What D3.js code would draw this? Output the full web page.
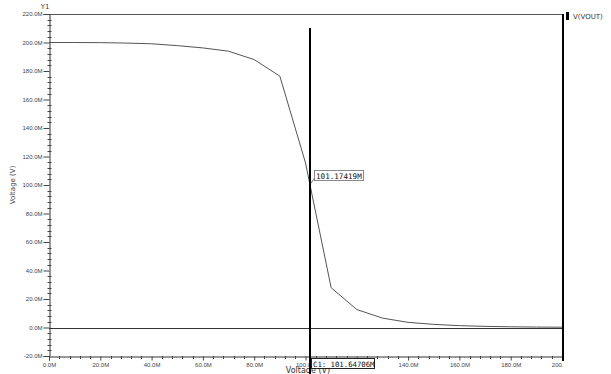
<!DOCTYPE html>
<html>
<head>
<meta charset="utf-8">
<script src="https://cdn.jsdelivr.net/npm/d3@7"></script>
<style>
  body { margin: 0; background: #fff; }
  svg { display: block; font-family: "DejaVu Sans", sans-serif; }
</style>
</head>
<body>
<svg id="chart" width="611" height="374"></svg>
<script>
// sweep values in mV ("M" = milli), output in mV
const vin  = [0, 10, 20, 30, 40, 50, 60, 70, 80, 90, 100, 110, 120, 130, 140, 150, 160, 170, 180, 190, 200];
const vout = [200, 200, 199.9, 199.6, 199.1, 197.8, 196.2, 193.9, 188, 176.4, 115.5, 27.9, 12.6, 6.6, 3.6, 2.2, 1.3, 0.8, 0.5, 0.3, 0.2];
const yTicks = [-20, 0, 20, 40, 60, 80, 100, 120, 140, 160, 180, 200, 220];
const xTicks = [0, 20, 40, 60, 80, 100, 120, 140, 160, 180, 200];
const cursorX = 101.64706;
const cursorY = 101.17419;
const seriesName = 'V(VOUT)';

const svg = d3.select('#chart');
const plotL = 49, plotR = 562, plotT = 14, plotB = 356;

const x = d3.scaleLinear().domain([0, 200]).range([plotL, plotR]);
const y = d3.scaleLinear().domain([-20, 220]).range([plotB, plotT]);
const fmt = v => v.toFixed(1) + 'M';

// top border
svg.append('line')
    .attr('x1', plotL).attr('x2', plotR).attr('y1', plotT + 0.5).attr('y2', plotT + 0.5)
    .attr('stroke', '#555').attr('stroke-width', 1);

// y axis
const yAxis = svg.append('g').attr('transform', `translate(${plotL + 0.5},0)`)
    .call(d3.axisLeft(y).tickValues(yTicks).tickFormat(fmt).tickSize(6).tickPadding(1));
yAxis.select('.domain').attr('stroke', '#333');
yAxis.selectAll('.tick line').attr('stroke', '#444');
yAxis.selectAll('text').attr('font-size', 6).attr('fill', '#444');
// minor y ticks
svg.append('g').selectAll('line')
    .data(d3.range(-20, 221, 4).filter(v => v % 20 !== 0))
    .enter().append('line')
    .attr('x1', plotL - 1.5).attr('x2', plotL + 2.5)
    .attr('y1', d => Math.round(y(d)) + 0.5).attr('y2', d => Math.round(y(d)) + 0.5)
    .attr('stroke', '#444');

// x axis
const xAxis = svg.append('g').attr('transform', `translate(0,${plotB + 0.5})`)
    .call(d3.axisBottom(x).tickValues(xTicks).tickFormat(fmt).tickSize(4).tickPadding(2));
xAxis.select('.domain').attr('stroke', '#333');
xAxis.selectAll('.tick line').attr('stroke', '#444');
xAxis.selectAll('text').attr('font-size', 6).attr('fill', '#444');
xAxis.selectAll('.tick').filter(d => d === 200).select('text').text('200.').attr('text-anchor', 'end').attr('dx', 1);
// minor x ticks
svg.append('g').selectAll('line')
    .data(d3.range(0, 201, 4).filter(v => v % 20 !== 0))
    .enter().append('line')
    .attr('x1', d => Math.round(x(d)) + 0.5).attr('x2', d => Math.round(x(d)) + 0.5)
    .attr('y1', plotB).attr('y2', plotB + 3)
    .attr('stroke', '#444');

// zero line
svg.append('line')
    .attr('x1', plotL).attr('x2', plotR)
    .attr('y1', Math.round(y(0)) + 0.5).attr('y2', Math.round(y(0)) + 0.5)
    .attr('stroke', '#333');

// axis titles
svg.append('text').attr('x', 45).attr('y', 9).attr('text-anchor', 'middle')
    .attr('font-size', 7).attr('fill', '#444').text('Y1');
svg.append('text')
    .attr('transform', `translate(15,${y(100)}) rotate(-90)`)
    .attr('text-anchor', 'middle').attr('font-size', 7).attr('fill', '#444')
    .text('Voltage (V)');
svg.append('text').attr('x', 308).attr('y', 373).attr('text-anchor', 'middle')
    .attr('font-size', 8).attr('fill', '#333').text('Voltage (V)');

// curve
const line = d3.line().x((d, i) => x(vin[i])).y(d => y(d));
svg.append('path').datum(vout)
    .attr('d', line).attr('fill', 'none').attr('stroke', '#555').attr('stroke-width', 1);

// right border (thick)
svg.append('line')
    .attr('x1', plotR + 1).attr('x2', plotR + 1).attr('y1', plotT).attr('y2', plotB + 5)
    .attr('stroke', '#000').attr('stroke-width', 2);

// legend
svg.append('rect').attr('x', 566).attr('y', 12).attr('width', 3).attr('height', 8).attr('fill', '#000');
svg.append('text').attr('x', 573).attr('y', 18.5).attr('font-size', 7).attr('fill', '#333').text(seriesName);

// cursor
const cx = Math.round(x(cursorX));
svg.append('line')
    .attr('x1', cx).attr('x2', cx).attr('y1', 28).attr('y2', 374)
    .attr('stroke', '#000').attr('stroke-width', 2);

const mono = '"DejaVu Sans Mono", monospace';
// cursor value label at bottom
const cLab = svg.append('g');
cLab.append('rect').attr('x', cx + 1.5).attr('y', 358.5).attr('width', 63).attr('height', 10)
    .attr('fill', '#fff').attr('stroke', '#222');
cLab.append('text').attr('x', cx + 3).attr('y', 366.5).attr('font-family', mono)
    .attr('font-size', 7.3).attr('fill', '#111').text('C1: ' + cursorX.toFixed(5) + 'M');

// marker label
const my = y(cursorY);
svg.append('line').attr('x1', cx + 1).attr('y1', my).attr('x2', 315).attr('y2', my - 6)
    .attr('stroke', '#777');
svg.append('rect').attr('x', 314.5).attr('y', 170.5).attr('width', 49).attr('height', 10)
    .attr('fill', '#fff').attr('stroke', '#888');
svg.append('text').attr('x', 316).attr('y', 178.5).attr('font-family', mono)
    .attr('font-size', 7.6).attr('fill', '#111').text(cursorY.toFixed(5) + 'M');
</script>
</body>
</html>
